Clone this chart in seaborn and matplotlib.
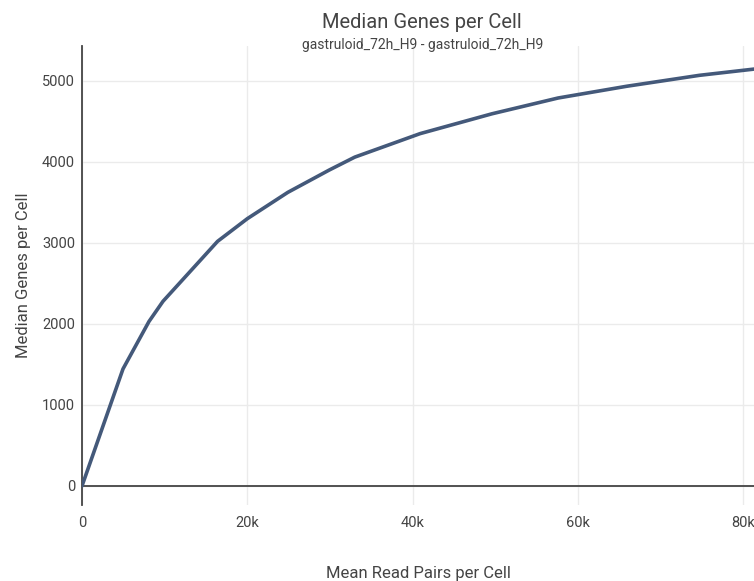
import matplotlib
matplotlib.use("Agg")
import matplotlib.pyplot as plt
import seaborn as sns
import pandas as pd
from matplotlib.ticker import FuncFormatter, FixedLocator

# Saturation curve: median genes detected per cell vs. mean read pairs per cell
mean_read_pairs = [0, 4960, 8100, 9800, 16400, 20000, 24900, 29900, 33000,
                   40900, 49600, 57600, 65900, 74700, 82000]
median_genes = [0, 1445, 2030, 2280, 3020, 3300, 3625, 3900, 4060,
                4350, 4595, 4790, 4935, 5070, 5155]

x_ticks = [0, 20000, 40000, 60000, 80000]
x_tick_labels = ["0", "20k", "40k", "60k", "80k"]
y_ticks = [0, 1000, 2000, 3000, 4000, 5000]

title = "Median Genes per Cell"
subtitle = "gastruloid_72h_H9 - gastruloid_72h_H9"
x_label = "Mean Read Pairs per Cell"
y_label = "Median Genes per Cell"

df = pd.DataFrame({"reads": mean_read_pairs, "genes": median_genes})

sns.set_theme(style="white")
plt.rcParams["font.family"] = ["Roboto", "DejaVu Sans"]

fig = plt.figure(figsize=(7.54, 5.81), dpi=100)
ax = fig.add_axes([82 / 754, 76 / 581, 1 - 82 / 754, (505 - 46) / 581])

sns.lineplot(data=df, x="reads", y="genes", ax=ax, color="#44597a",
             linewidth=2.6, zorder=3, clip_on=True)

ax.set_xlim(0, 81300)
ax.set_ylim(-235, 5432)

ax.xaxis.set_major_locator(FixedLocator(x_ticks))
ax.xaxis.set_major_formatter(FuncFormatter(lambda v, p: x_tick_labels[x_ticks.index(v)] if v in x_ticks else ""))
ax.yaxis.set_major_locator(FixedLocator(y_ticks))

ax.grid(True, color="#ebebeb", linewidth=1.0, zorder=0)
ax.axhline(0, color="#444444", linewidth=1.3, zorder=2)

for side in ["top", "right", "bottom"]:
    ax.spines[side].set_visible(False)
ax.spines["left"].set_color("#444444")
ax.spines["left"].set_linewidth(1.3)

ax.tick_params(axis="both", length=0, labelsize=10.5, colors="#444444")
ax.tick_params(axis="x", pad=8)
ax.tick_params(axis="y", pad=5)

ax.set_xlabel(x_label, fontsize=12, color="#444444", labelpad=26)
ax.set_ylabel(y_label, fontsize=12, color="#444444", labelpad=8)

fig.text(0.56, 0.962, title, ha="center", va="center", fontsize=14.5, color="#444444")
fig.text(0.56, 0.922, subtitle, ha="center", va="center", fontsize=10, color="#444444")

fig.savefig("out.png", dpi=100)
